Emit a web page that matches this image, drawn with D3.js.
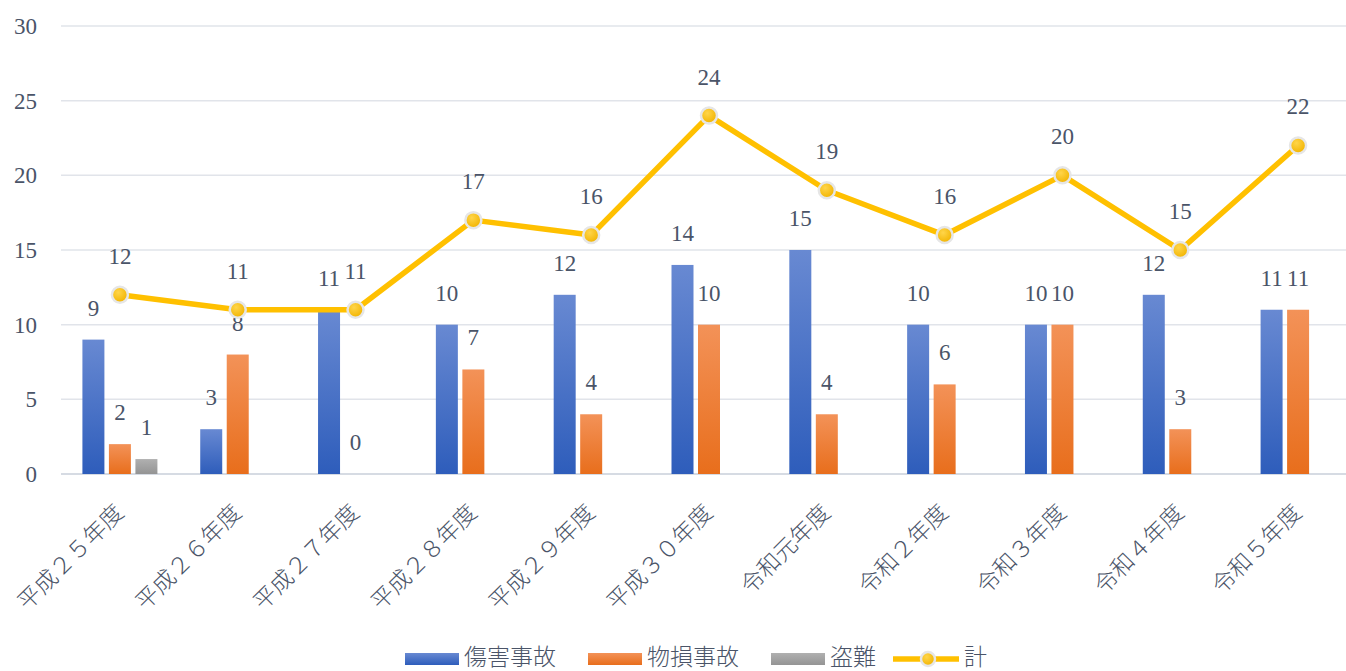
<!DOCTYPE html>
<html>
<head>
<meta charset="utf-8">
<script src="https://cdn.jsdelivr.net/npm/d3@7"></script>
<style>
  body { margin: 0; background: #fff; overflow: hidden; }
  text { font-family: "Liberation Serif", "Noto Sans CJK JP", serif; fill: #4a5468; }
</style>
</head>
<body>
<svg id="chart"></svg>
<script>
var years = ["平成２５年度", "平成２６年度", "平成２７年度", "平成２８年度", "平成２９年度", "平成３０年度",
             "令和元年度", "令和２年度", "令和３年度", "令和４年度", "令和５年度"];
var injury = [9, 3, 11, 10, 12, 14, 15, 10, 10, 12, 11];
var damage = [2, 8, 0, 7, 4, 10, 4, 6, 10, 3, 11];
var theft = [1, null, null, null, null, null, null, null, null, null, null];
var total = [12, 11, 11, 17, 16, 24, 19, 16, 20, 15, 22];
var seriesNames = ["傷害事故", "物損事故", "盗難", "計"];
var yTicks = [0, 5, 10, 15, 20, 25, 30];

var w = 1346, h = 671;
var svg = d3.select("#chart").attr("width", w).attr("height", h);

// gradients like the office chart
var defs = svg.append("defs");
var grads = [["gBlue", "#6889d2", "#2e5dbb"], ["gOrange", "#f39258", "#e86e1c"], ["gGray", "#b0b0b0", "#949494"]];
grads.forEach(function(g){
    var lg = defs.append("linearGradient").attr("id", g[0]).attr("x1", 0).attr("y1", 0).attr("x2", 0).attr("y2", 1);
    lg.append("stop").attr("offset", "0%").attr("stop-color", g[1]);
    lg.append("stop").attr("offset", "100%").attr("stop-color", g[2]);
});
var rg = defs.append("radialGradient").attr("id", "gDot").attr("cx", "40%").attr("cy", "35%").attr("r", "65%");
rg.append("stop").attr("offset", "0%").attr("stop-color", "#ffd54a");
rg.append("stop").attr("offset", "100%").attr("stop-color", "#f2b400");

var x = d3.scaleBand().domain(years).range([61, 1357]);
var x1 = d3.scaleBand().domain([0, 1, 2]).range([-37.5, 37.5]).paddingInner(0.17);
var y = d3.scaleLinear().domain([0, 30]).range([474, 26]);

// grid
svg.append("g").selectAll("line").data(yTicks).enter().append("line")
    .attr("x1", 61).attr("x2", w)
    .attr("y1", function(d){ return y(d); }).attr("y2", function(d){ return y(d); })
    .attr("stroke", function(d){ return d == 0 ? "#d6dbe3" : "#e1e4ea"; })
    .attr("stroke-width", function(d){ return d == 0 ? 2 : 1.5; });

// y axis labels
var axisY = d3.axisLeft(y).tickValues(yTicks).tickSize(0).tickPadding(0);
var gy = svg.append("g").attr("transform", "translate(37,0)").call(axisY);
gy.select(".domain").remove();
gy.selectAll("text").attr("font-size", 23).attr("fill", "#4a5468")
    .style("font-family", "'Liberation Serif', serif");

// bars
var series = [injury, damage, theft];
var fills = ["url(#gBlue)", "url(#gOrange)", "url(#gGray)"];
series.forEach(function(vals, s){
    var g = svg.append("g");
    var pts = vals.map(function(v, i){ return {v: v, i: i}; }).filter(function(d){ return d.v !== null; });
    g.selectAll("rect").data(pts).enter().append("rect")
        .attr("x", function(d){ return x(years[d.i]) + x.bandwidth()/2 + x1(s); })
        .attr("width", x1.bandwidth())
        .attr("y", function(d){ return y(d.v); })
        .attr("height", function(d){ return y(0) - y(d.v); })
        .attr("fill", fills[s]);
    g.selectAll("text").data(pts).enter().append("text")
        .attr("x", function(d){ return x(years[d.i]) + x.bandwidth()/2 + x1(s) + x1.bandwidth()/2; })
        .attr("y", function(d){ return y(d.v) - 24; })
        .attr("text-anchor", "middle")
        .attr("font-size", 23)
        .text(function(d){ return d.v; });
});

// total line
var cx = function(d, i){ return x(years[i]) + x.bandwidth()/2; };
var line = d3.line().x(cx).y(function(d){ return y(d); });
svg.append("path").attr("d", line(total))
    .attr("fill", "none").attr("stroke", "#ffc000").attr("stroke-width", 5.5)
    .attr("stroke-linejoin", "round");
svg.append("g").selectAll("circle").data(total).enter().append("circle")
    .attr("cx", cx).attr("cy", function(d){ return y(d); }).attr("r", 8)
    .attr("fill", "url(#gDot)").attr("stroke", "#e6e6e6").attr("stroke-width", 2.5);
svg.append("g").selectAll("text").data(total).enter().append("text")
    .attr("x", cx).attr("y", function(d){ return y(d) - 31; })
    .attr("text-anchor", "middle").attr("font-size", 23)
    .text(function(d){ return d; });

// x labels
svg.append("g").selectAll("text").data(years).enter().append("text")
    .attr("transform", function(d){ return "translate(" + (x(d) + x.bandwidth()/2 + 5) + ",514) rotate(-45)"; })
    .attr("text-anchor", "end")
    .attr("font-size", 23)
    .style("font-family", "'Noto Sans CJK JP', sans-serif")
    .style("font-weight", 300)
    .text(function(d){ return d; });

// legend
var legend = svg.append("g");
var legX = [405, 588, 771, 893];
seriesNames.forEach(function(name, i){
    var lg = legend.append("g").attr("transform", "translate(" + legX[i] + ",0)");
    if (i < 3) {
        lg.append("rect").attr("x", 0).attr("y", 653).attr("width", 54).attr("height", 12).attr("fill", fills[i]);
        lg.append("text").attr("x", 59).attr("y", 665).attr("font-size", 23)
            .style("font-family", "'Noto Sans CJK JP', sans-serif").style("font-weight", 300).text(name);
    } else {
        lg.append("line").attr("x1", 0).attr("x2", 66).attr("y1", 659).attr("y2", 659)
            .attr("stroke", "#ffc000").attr("stroke-width", 5.5);
        lg.append("circle").attr("cx", 35).attr("cy", 659).attr("r", 7)
            .attr("fill", "url(#gDot)").attr("stroke", "#e6e6e6").attr("stroke-width", 2.5);
        lg.append("text").attr("x", 71).attr("y", 665).attr("font-size", 23)
            .style("font-family", "'Noto Sans CJK JP', sans-serif").style("font-weight", 300).text(name);
    }
});
</script>
</body>
</html>
